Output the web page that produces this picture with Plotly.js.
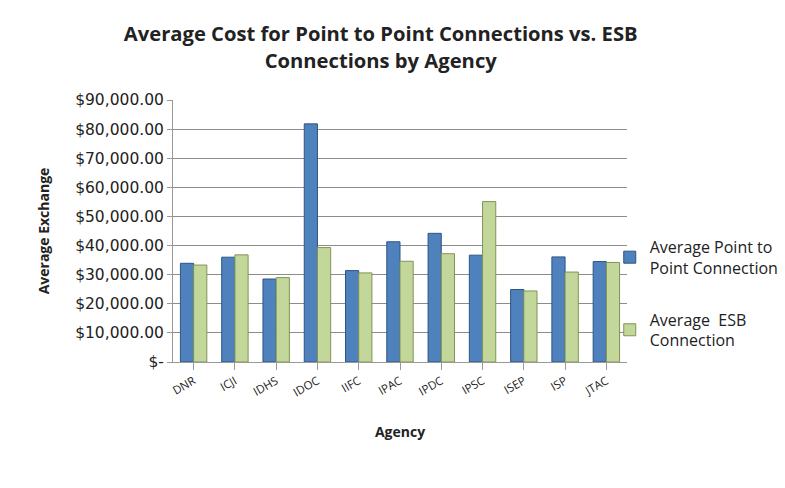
<!DOCTYPE html>
<html>
<head>
<meta charset="utf-8">
<script src="https://cdn.plot.ly/plotly-3.0.1.min.js"></script>
<style>html,body{margin:0;padding:0;background:#fff;}#chart{width:785px;height:488px;}</style>
</head>
<body>
<div id="chart"></div>
<script>
const agencies = ["DNR","ICJI","IDHS","IDOC","IIFC","IPAC","IPDC","IPSC","ISEP","ISP","JTAC"];
const pointToPoint = [33900, 36000, 28500, 81800, 31400, 41300, 44200, 36700, 24900, 36100, 34500];
const esb = [33300, 36800, 29000, 39300, 30600, 34600, 37200, 55100, 24400, 30900, 34200];
const tickValues = [0,10000,20000,30000,40000,50000,60000,70000,80000,90000];
const tickLabels = ["$-","$10,000.00","$20,000.00","$30,000.00","$40,000.00","$50,000.00","$60,000.00","$70,000.00","$80,000.00","$90,000.00"];

const font = "'Open Sans', Lato, sans-serif";
const data = [
  {type:"bar", name:"Average Point to<br>Point Connection", x:agencies, y:pointToPoint,
   marker:{color:"#4F81BD", line:{color:"#2C5586", width:1}}, legendgroup:"a"},
  {type:"bar", name:"Average  ESB<br>Connection", x:agencies, y:esb,
   marker:{color:"#C4D79B", line:{color:"#7F9455", width:1}}, legendgroup:"b"}
];
const layout = {
  width:785, height:488,
  paper_bgcolor:"#fff", plot_bgcolor:"#fff",
  margin:{l:173, r:158, t:100, b:126, autoexpand:false},
  title:{text:"<b>Average Cost for Point to Point Connections vs. ESB<br>Connections by Agency</b>",
         x:0.485, xanchor:"center", y:0.915, yanchor:"top", font:{family:font, size:20.2, color:"#222"}},
  barmode:"group", bargap:0.36, bargroupgap:0,
  xaxis:{tickangle:-30, tickfont:{family:font, size:11.5, color:"#222"},
         showline:true, linecolor:"#999", ticks:"outside", ticklen:7, tickcolor:"#999",
         title:{text:"<b>Agency</b>", font:{family:font, size:14, color:"#222"}, standoff:28}},
  yaxis:{range:[0,90000], tickvals:tickValues, ticktext:tickLabels,
         tickfont:{family:"'DejaVu Sans', sans-serif", size:15.5, color:"#222"},
         showgrid:true, gridcolor:"#8c8c8c", gridwidth:1,
         showline:true, linecolor:"#999", ticks:"outside", ticklen:5, tickcolor:"#999",
         zeroline:false,
         title:{text:"<b>Average Exchange</b>", font:{family:font, size:14, color:"#222"}, standoff:22}},
  legend:{x:0.962, xanchor:"left", y:0.26, yanchor:"middle", bgcolor:"rgba(0,0,0,0)",
          font:{family:font, size:16, color:"#222"},
          tracegroupgap:28, traceorder:"grouped", itemwidth:30},
  showlegend:true
};
Plotly.newPlot("chart", data, layout, {displayModeBar:false, staticPlot:true});
</script>
</body>
</html>
